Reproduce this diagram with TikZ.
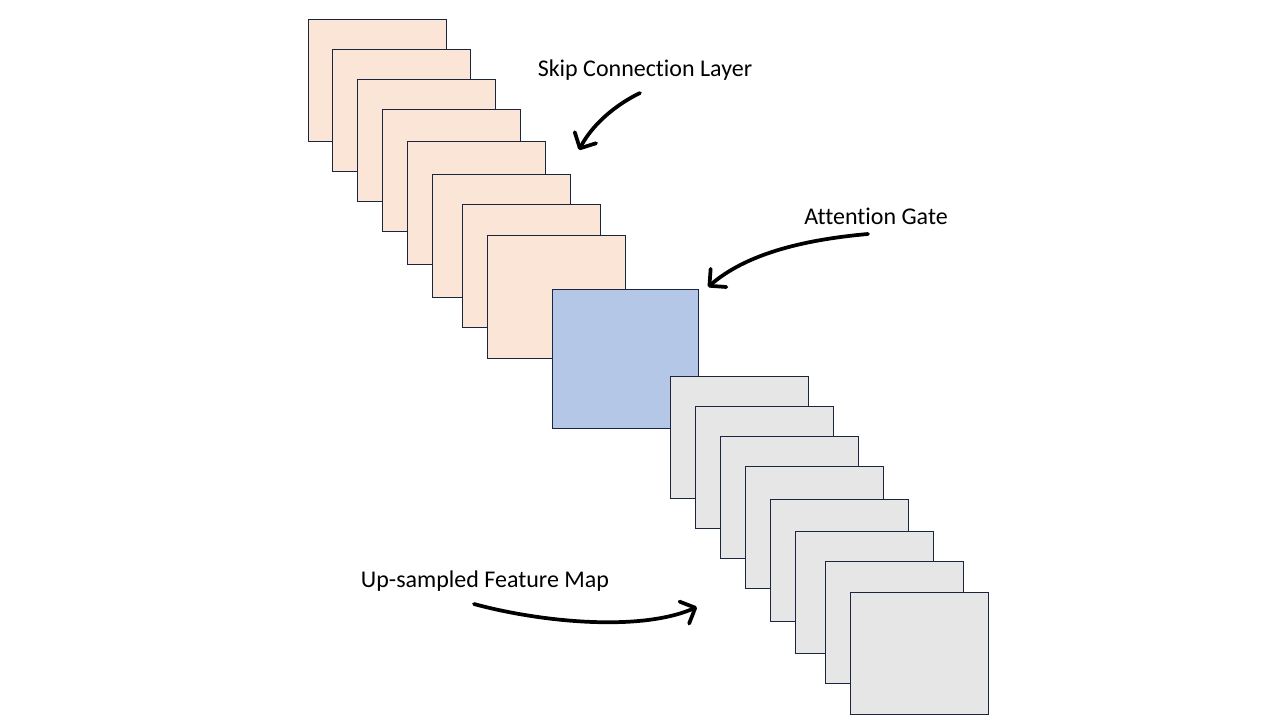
\documentclass[tikz,border=0pt]{standalone}
\usepackage{fontspec}
\setmainfont{Carlito}[Ligatures=NoCommon]
\usetikzlibrary{arrows.meta}
\definecolor{skipfill}{HTML}{FBE5D6}
\definecolor{gatefill}{HTML}{B4C7E7}
\definecolor{upfill}{HTML}{E7E6E6}
\definecolor{mapedge}{HTML}{1B2540}
\tikzset{>={Straight Barb[length=9pt,width=18pt,round]},every node/.style={font=\fontsize{18}{21}\selectfont},fmap/.style={draw=mapedge,line width=.75pt},pointer/.style={line width=2.8pt,->,line cap=round}}

\begin{document}
\begin{tikzpicture}[x=.75pt,y=-.75pt]
\useasboundingbox (0,0) rectangle (1280,720);
% Cartes du saut (skip), porte d'attention, cartes sur-echantillonnees.
\foreach \px/\py in {308/20,332/50,357/80,382/110,407/142,432/175,462/205,487/236}
  \draw[fmap,fill=skipfill] (\px,\py) rectangle ++(138,122);
\draw[fmap,fill=gatefill] (552,289) rectangle ++(146,139);
\foreach \px/\py in {670/376,695/406,720/436,745/466,770/499,795/531,825/561,850/592}
  \draw[fmap,fill=upfill] (\px,\py) rectangle ++(138,122);
\node (skip) at (645,70){Skip Connection Layer};\node (gate) at (876,216){Attention Gate};\node (upmap) at (485,581){Up-sampled Feature Map};
\coordinate (skipfrom) at (640,93);\coordinate (skipto) at (579,150);
\coordinate (gatefrom) at (868,234);\coordinate (gateto) at (708,287);
\coordinate (upfrom) at (474,604);\coordinate (upto) at (697,607);
\draw[pointer] (skipfrom) .. controls (615,105) and (592,125) .. (skipto);
\draw[pointer] (gatefrom) .. controls (800,240) and (745,255) .. (gateto);
\draw[pointer] (upfrom) .. controls (540,622) and (640,632) .. (upto);
\end{tikzpicture}
\end{document}
